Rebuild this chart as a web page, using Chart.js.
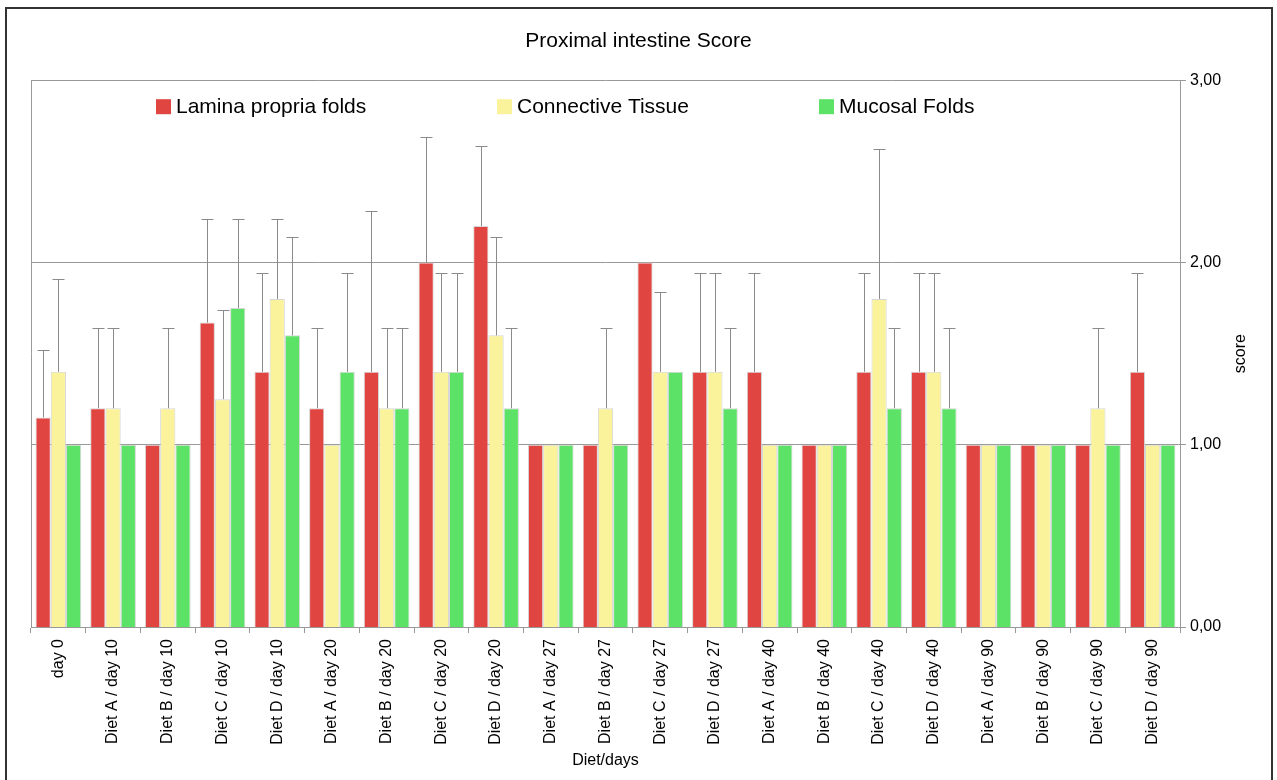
<!DOCTYPE html>
<html>
<head>
<meta charset="utf-8">
<script src="https://cdn.jsdelivr.net/npm/chart.js@4"></script>
<style>
  html, body { margin: 0; padding: 0; background: #fff; }
  #wrap { position: relative; width: 1277px; height: 780px; overflow: hidden; }
  #frame { position: absolute; left: 5px; top: 7px; width: 1264px; height: 790px; border: 2px solid #333; pointer-events: none; }
</style>
</head>
<body>
<div id="wrap">
  <canvas id="scoreChart" width="1277" height="780"></canvas>
  <div id="frame"></div>
</div>
<script>
const categories = [
    "day 0", "Diet A / day 10", "Diet B / day 10", "Diet C / day 10", "Diet D / day 10",
    "Diet A / day 20", "Diet B / day 20", "Diet C / day 20", "Diet D / day 20",
    "Diet A / day 27", "Diet B / day 27", "Diet C / day 27", "Diet D / day 27",
    "Diet A / day 40", "Diet B / day 40", "Diet C / day 40", "Diet D / day 40",
    "Diet A / day 90", "Diet B / day 90", "Diet C / day 90", "Diet D / day 90"
];

const laminaPropria = [1.15, 1.2, 1, 1.67, 1.4, 1.2, 1.4, 2, 2.2, 1, 1, 2, 1.4, 1.4, 1, 1.4, 1.4, 1, 1, 1, 1.4];
const laminaErr     = [0.37, 0.44, 0, 0.57, 0.54, 0.44, 0.88, 0.69, 0.44, 0, 0, 0, 0.54, 0.54, 0, 0.54, 0.54, 0, 0, 0, 0.54];

const connective    = [1.4, 1.2, 1.2, 1.25, 1.8, 1, 1.2, 1.4, 1.6, 1, 1.2, 1.4, 1.4, 1, 1, 1.8, 1.4, 1, 1, 1.2, 1];
const connectiveErr = [0.51, 0.44, 0.44, 0.49, 0.44, 0, 0.44, 0.54, 0.54, 0, 0.44, 0.44, 0.54, 0, 0, 0.82, 0.54, 0, 0, 0.44, 0];

const mucosal       = [1, 1, 1, 1.75, 1.6, 1.4, 1.2, 1.4, 1.2, 1, 1, 1.4, 1.2, 1, 1, 1.2, 1.2, 1, 1, 1, 1];
const mucosalErr    = [0, 0, 0, 0.49, 0.54, 0.54, 0.44, 0.54, 0.44, 0, 0, 0, 0.44, 0, 0, 0.44, 0.44, 0, 0, 0, 0];

const yTicks = [0, 1, 2, 3];

const FONT = "'Liberation Sans', Arial, Helvetica, sans-serif";

// upper error bars + chart frame + legend + right axis title
const extras = {
    id: "extras",
    beforeDatasetsDraw(chart) {
        const { ctx, chartArea } = chart;
        ctx.save();
        ctx.strokeStyle = "#999";
        ctx.lineWidth = 1;
        ctx.beginPath();
        ctx.moveTo(chartArea.left + 0.5, chartArea.top);
        ctx.lineTo(chartArea.left + 0.5, chartArea.bottom);
        ctx.stroke();
        ctx.restore();
    },
    afterDatasetsDraw(chart) {
        const { ctx } = chart;
        const yScale = chart.scales.y;
        ctx.save();
        ctx.strokeStyle = "#8a8a8a";
        ctx.lineWidth = 1;
        chart.data.datasets.forEach((ds, i) => {
            const meta = chart.getDatasetMeta(i);
            meta.data.forEach((bar, j) => {
                const err = ds.errors[j];
                if (!err) return;
                const x = Math.round(bar.x) + 0.5;
                const y0 = yScale.getPixelForValue(ds.data[j]);
                const y1 = Math.round(yScale.getPixelForValue(ds.data[j] + err)) + 0.5;
                ctx.beginPath();
                ctx.moveTo(x, y0);
                ctx.lineTo(x, y1);
                ctx.moveTo(x - 6, y1);
                ctx.lineTo(x + 6, y1);
                ctx.stroke();
            });
        });
        ctx.restore();
    },
    afterDraw(chart) {
        const { ctx, chartArea } = chart;
        ctx.save();
        // legend inside the plot
        const legendX = [156, 497, 819];
        ctx.font = "21px " + FONT;
        ctx.textBaseline = "middle";
        ctx.textAlign = "left";
        chart.data.datasets.forEach((ds, i) => {
            const x = legendX[i];
            const y = chartArea.top + 27;
            ctx.fillStyle = ds.backgroundColor;
            ctx.fillRect(x, y - 8, 15, 15);
            ctx.fillStyle = "#000";
            ctx.fillText(ds.label, x + 20, y);
        });
        // right axis title, reading bottom to top
        ctx.translate(1241, (chartArea.top + chartArea.bottom) / 2);
        ctx.rotate(-Math.PI / 2);
        ctx.textAlign = "center";
        ctx.font = "16px " + FONT;
        ctx.fillText("score", 0, 0);
        ctx.restore();
    }
};

const ctx = document.getElementById("scoreChart").getContext("2d");

const barStyle = {
    borderColor: "rgba(210, 210, 210, 0.9)",
    borderWidth: 1,
    borderSkipped: "bottom",
    categoryPercentage: 0.835,
    barPercentage: 1.0
};

const scoreChart = new Chart(ctx, {
    type: "bar",
    data: {
        labels: categories,
        datasets: [
            { label: "Lamina propria folds", data: laminaPropria, errors: laminaErr, backgroundColor: "#E04541", ...barStyle },
            { label: "Connective Tissue", data: connective, errors: connectiveErr, backgroundColor: "#FAF39C", ...barStyle },
            { label: "Mucosal Folds", data: mucosal, errors: mucosalErr, backgroundColor: "#5CE266", ...barStyle }
        ]
    },
    options: {
        responsive: false,
        animation: false,
        layout: { padding: 0 },
        plugins: {
            legend: { display: false },
            tooltip: { enabled: false },
            title: {
                display: true,
                text: "Proximal intestine Score",
                color: "#000",
                font: { family: FONT, size: 21, weight: "normal" },
                padding: { top: 29, bottom: 26 }
            }
        },
        scales: {
            x: {
                grid: {
                    offset: true,
                    drawOnChartArea: false,
                    drawTicks: true,
                    tickLength: 6,
                    color: "#999"
                },
                border: { display: true, color: "#999" },
                ticks: {
                    color: "#000",
                    font: { family: FONT, size: 16 },
                    minRotation: 90,
                    maxRotation: 90,
                    autoSkip: false,
                    padding: 6
                },
                title: {
                    display: true,
                    text: "Diet/days",
                    color: "#000",
                    font: { family: FONT, size: 16 },
                    padding: { top: 0, bottom: 10 }
                },
                afterFit(scale) { scale.height = 153; }
            },
            // empty left spacer so the plot starts where the reference does
            yLeft: {
                position: "left",
                display: true,
                min: 0,
                max: 3,
                grid: { display: false },
                border: { display: false },
                ticks: { display: false },
                afterFit(scale) { scale.width = 31; }
            },
            y: {
                position: "right",
                min: 0,
                max: 3,
                afterBuildTicks(scale) { scale.ticks = yTicks.map(v => ({ value: v })); },
                grid: { color: "#999", tickLength: 6 },
                border: { display: true, color: "#999" },
                ticks: {
                    color: "#000",
                    font: { family: FONT, size: 16 },
                    padding: 4,
                    callback: v => v.toFixed(2).replace(".", ",")
                },
                afterFit(scale) { scale.width = 97; }
            }
        }
    },
    plugins: [extras]
});
</script>
</body>
</html>
